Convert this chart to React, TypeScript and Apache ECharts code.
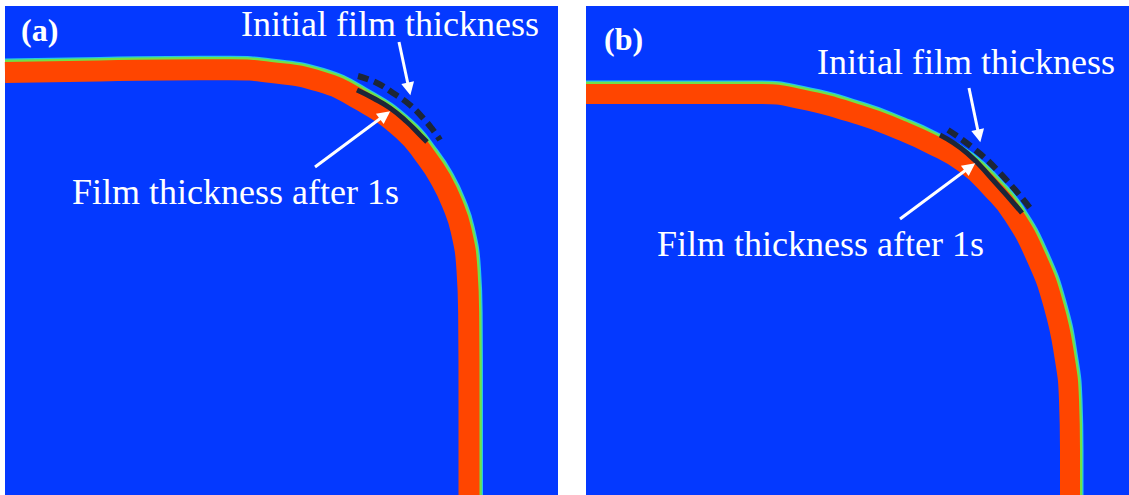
import React, { useEffect, useRef } from "react";
import * as echarts from "echarts";

// Coordinates are in panel units (origin at each panel's top-left, y downward)
const panelACenter: number[][] = [
  [0, 66.5], [95, 65], [195, 63.8], [225, 63.8], [265, 66.3], [315, 75.5], [355, 94],
  [398, 124], [422, 152.5], [436, 174], [447, 197], [456, 224], [462, 264], [463.7, 314], [464, 394], [464, 489],
];
const panelAOuter: number[][] = [
  [0, 56], [95, 54.5], [195, 53.3], [225, 53.3], [266.3, 55.9], [318, 65.4], [360.3, 84.9],
  [405.2, 116.3], [430.4, 146.2], [445.4, 169.3], [457, 193.5], [466.2, 221.5], [472.5, 263.1], [474.2, 314], [474.5, 394], [474.5, 489],
];
const panelBCenter: number[][] = [
  [0, 88], [174, 88], [214, 93], [274, 109], [314, 124], [344, 137.5], [379, 157.5],
  [407, 184], [426, 207], [450, 251], [468, 301], [479, 354], [483, 394], [484, 444], [484, 489],
];
const panelBOuter: number[][] = [
  [0, 78], [174, 78], [216, 83.2], [276.9, 99.4], [317.7, 114.7], [348.6, 128.6], [385, 149.5],
  [414.2, 177.1], [434.3, 201.5], [459.2, 247], [477.7, 298.5], [488.9, 352.8], [493, 394], [494, 444], [494, 489],
];
const filmWidthA = 21;
const filmWidthB = 20;

const panelAInitial: number[][] = [[353, 70], [372, 77], [388, 87], [405, 99], [418, 112], [428, 124], [435, 134]];
const panelAAfter: number[][] = [[352, 84], [368, 92], [385, 102], [402, 116], [415, 129], [422, 136]];
const panelBInitial: number[][] = [[362, 124], [387, 142], [414, 167], [444, 202]];
const panelBAfter: number[][] = [[354, 129], [381, 147], [407, 174], [436, 207]];

const panelAArrows: number[][][] = [
  [[394, 36], [404, 83]],
  [[310, 161], [380, 109]],
];
const panelBArrows: number[][][] = [
  [[383, 82], [393, 130]],
  [[314, 213], [384, 161]],
];

const panelLabels = ["(a)", "(b)"];
const initialLabel = "Initial film thickness";
const afterLabel = "Film thickness after 1s";

const BLUE = "#0439ff";
const ORANGE = "#ff4500";
const DARK = "#1c2638";

function plainLine(idx: number, pts: number[][], color: string, width: number, z: number) {
  return {
    type: "line",
    xAxisIndex: idx,
    yAxisIndex: idx,
    data: pts,
    smooth: 0.5,
    showSymbol: false,
    silent: true,
    clip: true,
    z,
    lineStyle: { color, width, cap: "butt", join: "round" },
  };
}

function curveSeries(idx: number, pts: number[][], dashed: boolean) {
  return {
    type: "line",
    xAxisIndex: idx,
    yAxisIndex: idx,
    data: pts,
    smooth: true,
    showSymbol: false,
    silent: true,
    z: 5,
    lineStyle: { color: DARK, width: dashed ? 6 : 5, type: dashed ? [11, 6] : "solid", cap: "butt" },
  };
}

function arrowSeries(idx: number, arrows: number[][][]) {
  return {
    type: "lines",
    coordinateSystem: "cartesian2d",
    xAxisIndex: idx,
    yAxisIndex: idx,
    silent: true,
    z: 6,
    symbol: ["none", "triangle"],
    symbolSize: 13,
    lineStyle: { color: "#ffffff", width: 3, opacity: 1 },
    data: arrows.map((a) => ({ coords: a })),
  };
}

export default function App() {
  const ref = useRef<HTMLDivElement>(null);
  useEffect(() => {
    if (!ref.current) return;
    const chart = echarts.init(ref.current, undefined, { renderer: "svg" });
    const font = '"Liberation Serif", "Times New Roman", serif';
    const textEl = (x: number, y: number, text: string, size: number, bold = false) => ({
      type: "text",
      x,
      y,
      z: 10,
      style: {
        text,
        fill: "#ffffff",
        fontSize: size,
        fontFamily: font,
        fontWeight: bold ? "bold" : "normal",
        align: "left",
        verticalAlign: "middle",
      },
    });
    chart.setOption({
      animation: false,
      backgroundColor: "#ffffff",
      grid: [
        { left: 5, top: 6, width: 553, height: 489, show: true, backgroundColor: BLUE, borderWidth: 0 },
        { left: 586, top: 6, width: 543, height: 489, show: true, backgroundColor: BLUE, borderWidth: 0 },
      ],
      xAxis: [
        { type: "value", gridIndex: 0, min: 0, max: 553, show: false },
        { type: "value", gridIndex: 1, min: 0, max: 543, show: false },
      ],
      yAxis: [
        { type: "value", gridIndex: 0, min: 0, max: 489, inverse: true, show: false },
        { type: "value", gridIndex: 1, min: 0, max: 489, inverse: true, show: false },
      ],
      series: [
        plainLine(0, panelAOuter, "#26c8e6", 7, 1),
        plainLine(0, panelAOuter, "#72e046", 4.5, 2),
        plainLine(0, panelACenter, ORANGE, filmWidthA, 3),
        plainLine(1, panelBOuter, "#26c8e6", 7, 1),
        plainLine(1, panelBOuter, "#72e046", 4.5, 2),
        plainLine(1, panelBCenter, ORANGE, filmWidthB, 3),
        curveSeries(0, panelAInitial, true),
        curveSeries(0, panelAAfter, false),
        curveSeries(1, panelBInitial, true),
        curveSeries(1, panelBAfter, false),
        arrowSeries(0, panelAArrows),
        arrowSeries(1, panelBArrows),
      ],
      graphic: [
        textEl(21, 30, panelLabels[0], 32, true),
        textEl(604, 39, panelLabels[1], 32, true),
        textEl(241, 23.5, initialLabel, 36),
        textEl(72, 191.5, afterLabel, 36),
        textEl(817, 61.5, initialLabel, 36),
        textEl(657, 243.5, afterLabel, 36),
      ],
    });
    return () => chart.dispose();
  }, []);
  return (
    <div
      ref={ref}
      style={{ position: "fixed", left: 0, top: 0, width: 1129, height: 495 }}
    />
  );
}
